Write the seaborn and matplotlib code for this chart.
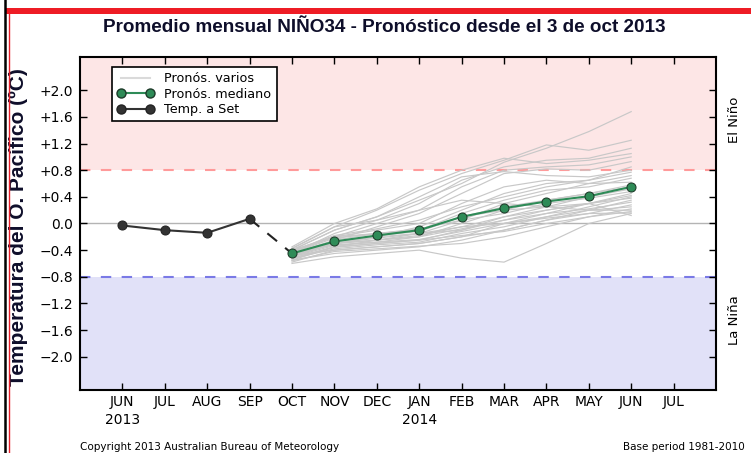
import numpy as np
import pandas as pd
import matplotlib
matplotlib.use("Agg")
import matplotlib.pyplot as plt
from matplotlib.lines import Line2D
import seaborn as sns

# ---------------- data ----------------
month_labels = ["JUN\n2013", "JUL", "AUG", "SEP", "OCT", "NOV", "DEC",
                "JAN\n2014", "FEB", "MAR", "APR", "MAY", "JUN", "JUL"]
obs_months = [0, 1, 2, 3]
obs_values = [-0.03, -0.10, -0.14, 0.07]
fc_months = [4, 5, 6, 7, 8, 9, 10, 11, 12]
median_values = [-0.45, -0.27, -0.18, -0.10, 0.10, 0.23, 0.33, 0.41, 0.55]
members = [
    [-0.40, -0.10, 0.10, 0.35, 0.60, 0.92, 1.13, 1.38, 1.68],
    [-0.38, -0.05, 0.20, 0.50, 0.75, 0.95, 1.18, 1.10, 1.25],
    [-0.45, -0.15, 0.05, 0.30, 0.65, 0.85, 0.95, 0.98, 1.13],
    [-0.35, 0.00, 0.22, 0.55, 0.80, 0.98, 0.90, 0.95, 1.05],
    [-0.42, -0.20, 0.00, 0.20, 0.55, 0.80, 0.85, 0.88, 1.00],
    [-0.50, -0.25, -0.05, 0.15, 0.45, 0.75, 0.82, 0.80, 0.93],
    [-0.40, -0.10, 0.10, 0.40, 0.70, 0.78, 0.72, 0.70, 0.80],
    [-0.48, -0.30, -0.20, -0.05, 0.20, 0.45, 0.60, 0.65, 0.77],
    [-0.55, -0.35, -0.25, -0.15, 0.05, 0.30, 0.45, 0.60, 0.72],
    [-0.45, -0.25, -0.15, -0.10, 0.15, 0.35, 0.50, 0.55, 0.68],
    [-0.40, -0.20, -0.10, 0.00, 0.30, 0.55, 0.65, 0.60, 0.62],
    [-0.50, -0.30, -0.25, -0.20, 0.00, 0.20, 0.35, 0.45, 0.58],
    [-0.46, -0.28, -0.18, -0.12, 0.10, 0.25, 0.35, 0.45, 0.55],
    [-0.52, -0.35, -0.30, -0.25, -0.10, 0.10, 0.25, 0.40, 0.52],
    [-0.44, -0.22, -0.15, -0.08, 0.05, 0.15, 0.30, 0.38, 0.48],
    [-0.58, -0.40, -0.35, -0.30, -0.20, 0.00, 0.15, 0.30, 0.45],
    [-0.47, -0.30, -0.25, -0.18, -0.05, 0.10, 0.20, 0.30, 0.42],
    [-0.53, -0.38, -0.32, -0.28, -0.15, -0.05, 0.10, 0.25, 0.40],
    [-0.43, -0.20, -0.15, -0.10, 0.10, 0.20, 0.25, 0.30, 0.38],
    [-0.55, -0.45, -0.40, -0.35, -0.25, -0.10, 0.05, 0.20, 0.35],
    [-0.50, -0.33, -0.28, -0.20, -0.08, 0.05, 0.15, 0.22, 0.32],
    [-0.60, -0.50, -0.45, -0.40, -0.52, -0.58, -0.30, 0.00, 0.15],
    [-0.48, -0.40, -0.35, -0.30, -0.20, -0.10, 0.05, 0.15, 0.28],
    [-0.45, -0.30, -0.22, -0.15, -0.05, 0.00, 0.10, 0.20, 0.25],
    [-0.56, -0.42, -0.38, -0.34, -0.30, -0.20, -0.05, 0.10, 0.22],
    [-0.37, -0.05, 0.05, 0.20, 0.35, 0.30, 0.25, 0.20, 0.20],
    [-0.52, -0.36, -0.30, -0.25, -0.18, -0.12, 0.00, 0.10, 0.18],
    [-0.41, -0.18, -0.08, 0.05, 0.25, 0.40, 0.55, 0.65, 0.85],
    [-0.49, -0.27, -0.20, -0.15, -0.10, 0.05, 0.20, 0.30, 0.12],
    [-0.46, -0.32, -0.28, -0.24, -0.12, 0.00, 0.08, 0.15, 0.16],
]
ytick_values = [-2.0, -1.6, -1.2, -0.8, -0.4, 0.0, 0.4, 0.8, 1.2, 1.6, 2.0]
el_nino_threshold = 0.8
la_nina_threshold = -0.8

# ---------------- frames ----------------
ens_df = pd.DataFrame(
    [(i, m, v) for i, row in enumerate(members) for m, v in zip(fc_months, row)],
    columns=["member", "month", "anom"],
)
med_df = pd.DataFrame({"month": fc_months, "anom": median_values})
obs_df = pd.DataFrame({"month": obs_months, "anom": obs_values})
link_df = pd.DataFrame({"month": [obs_months[-1], fc_months[0]],
                        "anom": [obs_values[-1], median_values[0]]})

# ---------------- figure ----------------
fig = plt.figure(figsize=(7.51, 4.53), dpi=100)
ax = fig.add_axes([80 / 751, 1 - 390 / 453, 636 / 751, 333 / 453])

ymin, ymax = -2.5, 2.5
ax.axhspan(el_nino_threshold, ymax, color="#fde6e6", zorder=0, lw=0)
ax.axhspan(ymin, la_nina_threshold, color="#e1e1f8", zorder=0, lw=0)
ax.axhline(el_nino_threshold, color="#ff9a9a", lw=1.5, ls=(0, (5, 5)), zorder=1)
ax.axhline(la_nina_threshold, color="#7a7ae6", lw=1.5, ls=(0, (5, 5)), zorder=1)
ax.axhline(0, color="#b4b4b4", lw=1.0, zorder=1)

ens_color = "#c8c8c8"
sns.lineplot(data=ens_df, x="month", y="anom", units="member", estimator=None,
             color=ens_color, lw=0.85, ax=ax, legend=False, zorder=2)
sns.lineplot(data=link_df, x="month", y="anom", color="#222222", lw=1.5,
             ls=(0, (6, 5)), ax=ax, legend=False, zorder=3)
sns.lineplot(data=obs_df, x="month", y="anom", color="#333333", lw=1.5,
             marker="o", markersize=6.5, markeredgecolor="#222222",
             markerfacecolor="#333333", ax=ax, legend=False, zorder=4)
green = "#2e8b57"
sns.lineplot(data=med_df, x="month", y="anom", color=green, lw=1.5,
             marker="o", markersize=6.5, markeredgecolor="#1c3a28",
             markerfacecolor=green, ax=ax, legend=False, zorder=5)

ax.set_xlim(-1, 14)
ax.set_ylim(ymin, ymax)
ax.set_xticks(range(len(month_labels)))
ax.set_xticklabels(month_labels, fontsize=10, linespacing=1.35)
ax.set_yticks(ytick_values)
ax.set_yticklabels([("+%.1f" % v) if v > 0 else ("0.0" if v == 0 else ("\u2212%.1f" % -v))
                    for v in ytick_values], fontsize=10)
ax.tick_params(direction="in", length=5, width=1, top=True, right=True,
               labeltop=False, labelright=False, colors="black", pad=5)
ax.tick_params(axis="x", pad=3.5)
for s in ax.spines.values():
    s.set_linewidth(1.5)
    s.set_color("black")
ax.set_xlabel("")
ax.set_ylabel("Temperatura del O. Pac\u00edfico (\u00baC)", fontsize=15,
              fontweight="bold", color="#0e0e2a",
              family=["Liberation Sans", "DejaVu Sans"])
ax.yaxis.set_label_coords(-0.082, 0.49)

# band labels
ax.text(1.029, 1.55, "El Ni\u00f1o", rotation=90, va="center", ha="center",
        fontsize=9.5, transform=ax.get_yaxis_transform())
ax.text(1.029, -1.45, "La Ni\u00f1a", rotation=90, va="center", ha="center",
        fontsize=9.5, transform=ax.get_yaxis_transform())

handles = [
    Line2D([], [], color="#dadada", lw=1.5),
    Line2D([], [], color=green, lw=1.5, marker="o", markersize=6.5,
           markerfacecolor=green, markeredgecolor="#1c3a28"),
    Line2D([], [], color="#333333", lw=1.5, marker="o", markersize=6.5,
           markerfacecolor="#333333", markeredgecolor="#222222"),
]
leg = ax.legend(handles, ["Pron\u00f3s. varios", "Pron\u00f3s. mediano", "Temp. a Set"],
                loc="upper left", bbox_to_anchor=(32 / 636, 1 - 10 / 333),
                borderaxespad=0, fontsize=9.2,
                numpoints=2, handlelength=2.9, frameon=True, fancybox=False,
                framealpha=1, edgecolor="black", borderpad=0.4,
                labelspacing=0.2, handletextpad=0.8)
leg.get_frame().set_linewidth(1.2)

# titles / footer
fig.text(384.5 / 751, 1 - 28 / 453,
         "Promedio mensual NI\u00d1O34 - Pron\u00f3stico desde el 3 de oct 2013",
         ha="center", va="center", fontsize=13.6, fontweight="bold",
         color="#0e0e2a", family=["Liberation Sans", "DejaVu Sans"])
fig.text(80 / 751, 1 - 447 / 453, "Copyright 2013 Australian Bureau of Meteorology",
         ha="left", va="center", fontsize=7.5)
fig.text(745 / 751, 1 - 447 / 453, "Base period 1981-2010",
         ha="right", va="center", fontsize=7.5)

# page decoration (border lines)
fig.add_artist(plt.Line2D([5 / 751, 5 / 751], [0, 1], color="black", lw=1.8,
                          transform=fig.transFigure))
fig.add_artist(plt.Line2D([8.5 / 751, 8.5 / 751], [0, 1 - 13 / 453], color="#e8202a",
                          lw=1.0, transform=fig.transFigure))
fig.add_artist(plt.Rectangle((6 / 751, 1 - 13.5 / 453), 745 / 751, 5.5 / 453,
                             color="#ee1c25", transform=fig.transFigure, lw=0))

fig.savefig("out.png", dpi=100)
